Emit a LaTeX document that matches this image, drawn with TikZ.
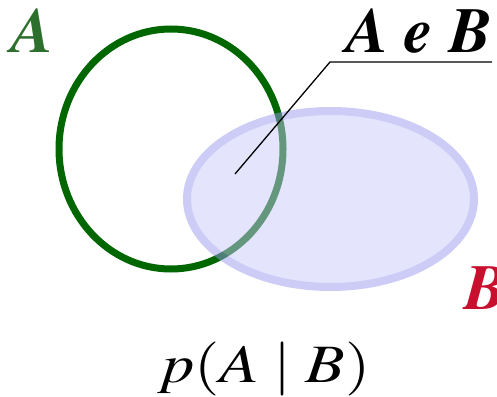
\documentclass[tikz,border=0pt]{standalone}
\usepackage[T1]{fontenc}
\usepackage{mathptmx}
\usepackage{graphicx}
\usepackage{tikz}
\usetikzlibrary{positioning}
\definecolor{setgreen}{RGB}{0,102,0}
\definecolor{labelgreen}{RGB}{45,112,45}
\definecolor{labelred}{RGB}{200,16,46}
\definecolor{setfill}{RGB}{201,201,252}
\definecolor{setedge}{RGB}{153,153,240}

\begin{document}
\begin{tikzpicture}[x=1pt, y=1pt,
  setlabel/.style={font=\fontsize{64}{64}\selectfont\bfseries\itshape, inner sep=0pt, anchor=base west}]
  \useasboundingbox (0,0) rectangle (497,396);
  % event A
  \draw[setgreen, line width=7pt] (171,247) ellipse [x radius=112, y radius=120];
  % event B, see-through
  \begin{scope}[transparency group, opacity=0.5]
    \draw[setedge, fill=setfill, line width=8pt] (330.5,197) ellipse [x radius=143.5, y radius=88];
  \end{scope}

  \node[setlabel, labelgreen] (seta) at (11,343) {A};
  \node[setlabel, labelred] (setb) at (464,87) {B};
  \node[setlabel] (both) at (346,343) {A e B};

  \coordinate (ab) at (235,222);
  \coordinate (kink) at (330,334);
  \draw[line width=1.3pt] (ab) -- (kink) -- (kink -| both.east);

  \node[font=\fontsize{54}{54}\selectfont, inner sep=0pt, anchor=base west] (prob) at (157,14)
    {\scalebox{1.2}[1]{$p(A\mathrel{|}B)$}};
\end{tikzpicture}
\end{document}
